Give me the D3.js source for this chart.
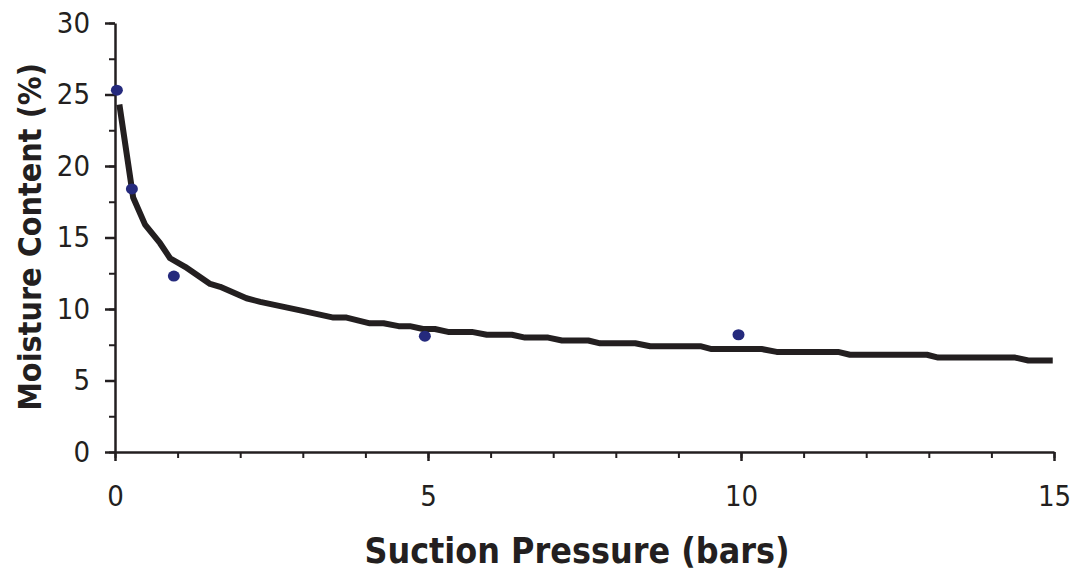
<!DOCTYPE html>
<html>
<head>
<meta charset="utf-8">
<script src="https://cdn.jsdelivr.net/npm/d3@7"></script>
<style>
  body { margin: 0; background: #fff; }
  svg { display: block; }
</style>
</head>
<body>
<svg width="1091" height="571"></svg>
<script>
const svg = d3.select("svg"),
    width = +svg.attr("width"),
    height = +svg.attr("height");

// measured points
const measPressure = [0.03, 0.27, 0.94, 4.95, 9.96];
const measMoisture = [25.3, 18.4, 12.3, 8.1, 8.2];

// fitted curve (vertices)
const fitPressure = [0.07, 0.29, 0.48, 0.72, 0.88, 1.12, 1.52, 1.68, 2.10, 2.32, 2.64, 2.96,
  3.49, 3.70, 4.07, 4.29, 4.53, 4.71, 4.92, 5.11, 5.32, 5.70, 5.94, 6.34, 6.55, 6.92,
  7.14, 7.56, 7.75, 8.31, 8.55, 9.35, 9.53, 10.33, 10.57, 11.55, 11.74, 12.97, 13.15,
  14.38, 14.59, 14.98];
const fitMoisture = [24.3, 17.8, 15.9, 14.6, 13.55, 12.95, 11.75, 11.55, 10.75, 10.5, 10.2, 9.9,
  9.4, 9.4, 9.0, 9.0, 8.8, 8.8, 8.6, 8.6, 8.4, 8.4, 8.2, 8.2, 8.0, 8.0,
  7.8, 7.8, 7.6, 7.6, 7.4, 7.4, 7.2, 7.2, 7.0, 7.0, 6.8, 6.8, 6.6,
  6.6, 6.4, 6.4];

const xMajor = [0, 5, 10, 15];
const yMajor = [0, 5, 10, 15, 20, 25, 30];

const dark = "#231f20";
const font = "'DejaVu Sans Condensed', 'DejaVu Sans', sans-serif";

const x = d3.scaleLinear().domain([0, 15]).range([115, 1054]);
const y = d3.scaleLinear().domain([0, 30]).range([452, 23]);

// minor ticks
svg.append("g")
    .attr("transform", `translate(0,${y(0)})`)
    .call(d3.axisBottom(x).tickValues(d3.range(0, 16)).tickSize(6).tickFormat(""))
    .call(g => g.select(".domain").remove())
    .selectAll("line").attr("stroke", dark).attr("stroke-width", 2);
svg.append("g")
    .attr("transform", `translate(${x(0)},0)`)
    .call(d3.axisLeft(y).tickValues(d3.range(0, 31, 2.5)).tickSize(6).tickFormat(""))
    .call(g => g.select(".domain").remove())
    .selectAll("line").attr("stroke", dark).attr("stroke-width", 2);

// major ticks + labels
const xAxis = svg.append("g")
    .attr("transform", `translate(0,${y(0)})`)
    .call(d3.axisBottom(x).tickValues(xMajor).tickSize(9).tickSizeOuter(0).tickPadding(24));
const yAxis = svg.append("g")
    .attr("transform", `translate(${x(0)},0)`)
    .call(d3.axisLeft(y).tickValues(yMajor).tickSize(10).tickSizeOuter(0).tickPadding(15));

[xAxis, yAxis].forEach(g => {
  g.select(".domain").attr("stroke", dark).attr("stroke-width", 2.5);
  g.selectAll(".tick line").attr("stroke", dark).attr("stroke-width", 2.5);
  g.selectAll(".tick text")
      .attr("fill", dark)
      .style("font-family", font)
      .style("font-size", "29px");
});

// fitted line
const fit = fitPressure.map((p, i) => [p, fitMoisture[i]]);
svg.append("path")
    .datum(fit)
    .attr("fill", "none")
    .attr("stroke", dark)
    .attr("stroke-width", 6)
    .attr("stroke-linejoin", "round")
    .attr("d", d3.line().x(d => x(d[0])).y(d => y(d[1])));

// measured points
svg.append("g")
  .selectAll("ellipse")
  .data(measPressure.map((p, i) => [p, measMoisture[i]]))
  .join("ellipse")
    .attr("cx", d => x(d[0]))
    .attr("cy", d => y(d[1]))
    .attr("rx", 6)
    .attr("ry", 5.5)
    .attr("fill", "#252a7d");

// axis titles
svg.append("text")
    .attr("x", 577)
    .attr("y", 563)
    .attr("text-anchor", "middle")
    .attr("fill", dark)
    .style("font-family", font)
    .style("font-weight", "bold")
    .style("font-size", "35.5px")
    .text("Suction Pressure (bars)");

svg.append("text")
    .attr("transform", "translate(41,237) rotate(-90)")
    .attr("text-anchor", "middle")
    .attr("fill", dark)
    .style("font-family", font)
    .style("font-weight", "bold")
    .style("font-size", "32px")
    .text("Moisture Content (%)");
</script>
</body>
</html>
